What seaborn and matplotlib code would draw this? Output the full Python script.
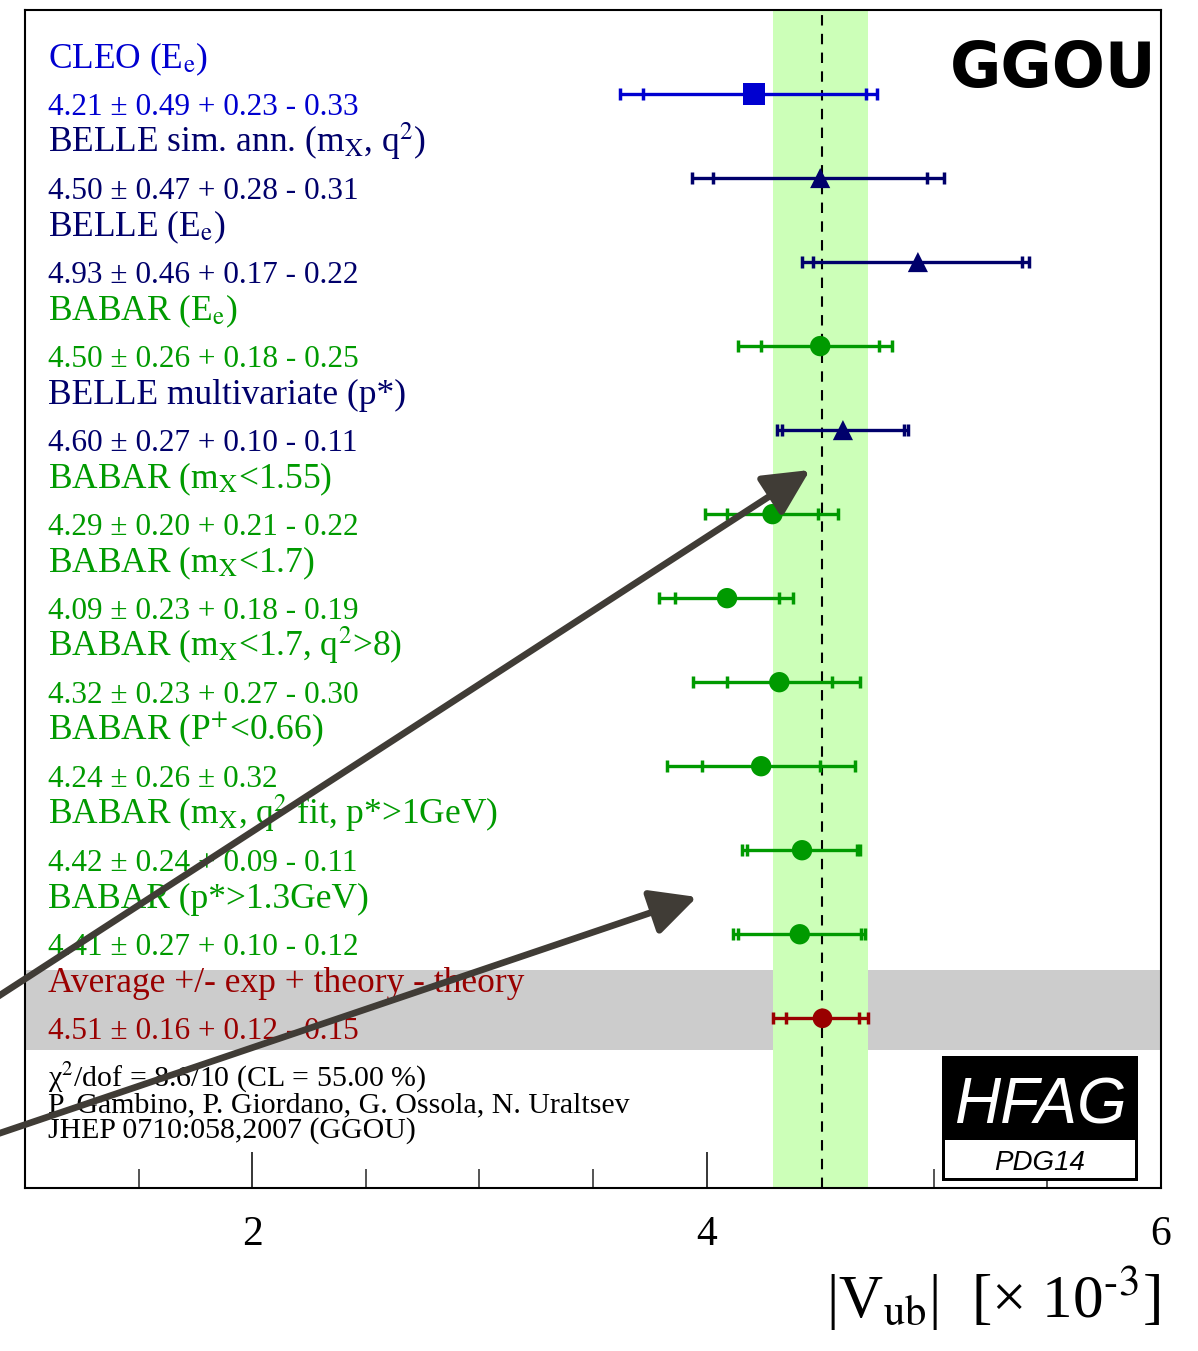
import numpy as np
import pandas as pd
import matplotlib
matplotlib.use("Agg")
import matplotlib.pyplot as plt
from matplotlib.patches import Rectangle
import seaborn as sns

# ---------------- data ----------------
names = [
    "CLEO (E$_{\\rm e}$)",
    "BELLE sim. ann. (m$_{\\rm X}$, q$^{2}$)",
    "BELLE (E$_{\\rm e}$)",
    "BABAR (E$_{\\rm e}$)",
    "BELLE multivariate (p*)",
    "BABAR (m$_{\\rm X}$<1.55)",
    "BABAR (m$_{\\rm X}$<1.7)",
    "BABAR (m$_{\\rm X}$<1.7, q$^{2}$>8)",
    "BABAR (P$^{+}$<0.66)",
    "BABAR (m$_{\\rm X}$, q$^{2}$ fit, p*>1GeV)",
    "BABAR (p*>1.3GeV)",
    "Average +/- exp + theory - theory",
]
groups = ["CLEO", "BELLE", "BELLE", "BABAR", "BELLE", "BABAR",
          "BABAR", "BABAR", "BABAR", "BABAR", "BABAR", "Average"]
values = [4.21, 4.50, 4.93, 4.50, 4.60, 4.29, 4.09, 4.32, 4.24, 4.42, 4.41, 4.51]
exp_err = [0.49, 0.47, 0.46, 0.26, 0.27, 0.20, 0.23, 0.23, 0.26, 0.24, 0.27, 0.16]
th_up = [0.23, 0.28, 0.17, 0.18, 0.10, 0.21, 0.18, 0.27, 0.32, 0.09, 0.10, 0.12]
th_dn = [0.33, 0.31, 0.22, 0.25, 0.11, 0.22, 0.19, 0.30, 0.32, 0.11, 0.12, 0.15]

chi2_text = "χ$^{2}$/dof = 8.6/10 (CL = 55.00 %)"
ref_lines = ["P. Gambino, P. Giordano, G. Ossola, N. Uraltsev",
             "JHEP 0710:058,2007 (GGOU)"]
xticks = [2, 4, 6]

colors = {"CLEO": "#0000d0", "BELLE": "#00006b", "BABAR": "#009a00", "Average": "#990000"}
markers = {"CLEO": "s", "BELLE": "^", "BABAR": "o", "Average": "o"}
msizes = {"CLEO": 250, "BELLE": 210, "BABAR": 215, "Average": 200}

# ---------------- figure ----------------
sns.set_theme(style="white")
plt.rcParams["font.family"] = ["Liberation Serif", "DejaVu Serif"]
plt.rcParams["mathtext.fontset"] = "stix"

W, H = 1198, 1351
fig = plt.figure(figsize=(W / 100, H / 100), dpi=100)
ax = fig.add_axes([25 / W, 1 - 1188 / H, (1161 - 25) / W, (1188 - 10) / H])
ax.set_xlim(1, 6)
ax.set_ylim(13.02, -1.0)

n = len(values)
rows = np.arange(n)
vals = np.array(values)
e = np.array(exp_err)
tot_up = np.sqrt(e ** 2 + np.array(th_up) ** 2)
tot_dn = np.sqrt(e ** 2 + np.array(th_dn) ** 2)

avg = values[-1]
band_lo = avg - tot_dn[-1]
band_hi = avg + tot_up[-1]

# grey band for the average row
ax.axhspan(n - 1 - 0.57, n - 1 + 0.38, color="#cccccc", zorder=0, lw=0)
# green average band
ax.axvspan(band_lo, band_hi, color="#ccffb8", zorder=1, lw=0)
ax.axvline(avg, color="black", lw=1.5, dashes=(5, 4), zorder=2)

# error bars
for i in range(n):
    c = colors[groups[i]]
    lo, hi = vals[i] - tot_dn[i], vals[i] + tot_up[i]
    ax.plot([lo, hi], [i, i], color=c, lw=2.4, zorder=3, solid_capstyle="butt")
    ax.plot([lo, hi, vals[i] - e[i], vals[i] + e[i]], [i] * 4, ls="none",
            marker="|", ms=9, mew=2.5, color=c, zorder=3)

df = pd.DataFrame({"val": vals, "row": rows, "group": groups})
sns.scatterplot(data=df, x="val", y="row", hue="group", style="group", size="group",
                palette=colors, markers=markers, sizes=msizes, edgecolor="none",
                legend=False, ax=ax, zorder=5)
ax.set_xlabel("")
ax.set_ylabel("")

# labels
tx = 1 + 23 / 227
for i in range(n):
    c = colors[groups[i]]
    ax.text(tx, i - 0.31, names[i], color=c, fontsize=25.5, va="baseline", ha="left", zorder=4)
    if abs(th_up[i] - th_dn[i]) < 1e-9:
        s = f"{values[i]:.2f} ± {exp_err[i]:.2f} ± {th_up[i]:.2f}"
    else:
        s = f"{values[i]:.2f} ± {exp_err[i]:.2f} + {th_up[i]:.2f} - {th_dn[i]:.2f}"
    ax.text(tx, i + 0.25, s, color=c, fontsize=22.5, va="baseline", ha="left", zorder=4)

# footer text
ax.text(tx, 11.71, chi2_text, fontsize=21.5, color="black", va="center", ha="left", zorder=4)
ax.text(tx, 12.04, ref_lines[0], fontsize=21.5, color="black", va="center", ha="left", zorder=4)
ax.text(tx, 12.34, ref_lines[1], fontsize=21.5, color="black", va="center", ha="left", zorder=4)

# GGOU label
ax.text(5.98, -0.29, "GGOU", fontsize=45, fontweight="bold", family="DejaVu Sans",
        ha="right", va="center", color="black", zorder=6)

# HFAG logo
ax.add_patch(Rectangle((5.035, 11.45), 0.864, 1.49, facecolor="black", edgecolor="none", zorder=6))
ax.add_patch(Rectangle((5.048, 12.45), 0.837, 0.45, facecolor="white", edgecolor="none", zorder=7))
ax.text(5.467, 12.05, "HFAG", fontsize=46, style="italic", family="Liberation Sans",
        color="white", ha="center", va="center", zorder=8)
ax.text(5.467, 12.72, "PDG14", fontsize=20, style="italic", family="Liberation Sans",
        color="black", ha="center", va="center", zorder=8)

# axes styling
for sp in ax.spines.values():
    sp.set_color("black")
    sp.set_linewidth(1.5)
    sp.set_zorder(9)
ax.set_yticks([])
ax.set_xticks(xticks)
ax.set_xticklabels([str(t) for t in xticks], fontsize=30)
ax.set_xticks(np.arange(1.5, 6.0, 0.5), minor=True)
ax.tick_params(axis="x", which="major", direction="in", length=26, width=1.1, pad=20,
               colors="black", bottom=True, top=False, zorder=9)
ax.tick_params(axis="x", which="minor", direction="in", length=14, width=1.1,
               bottom=True, top=False)
ax.grid(False)
for t in ax.xaxis.get_major_ticks() + ax.xaxis.get_minor_ticks():
    t.tick1line.set_zorder(10)

# x label
fig.text(1160 / W, 33 / H, "|V$_{\\rm ub}$|  [× 10$^{\\text{-3}}$]", fontsize=44,
         ha="right", va="baseline", color="black")

# arrows
arrow_col = "#403c36"
for (x0, y0), (x1, y1) in [((-100, 1060), (810, 470)), ((-100, 1167), (697, 897))]:
    ax.annotate("", xy=(x1, H - y1), xycoords="figure pixels",
                xytext=(x0, H - y0), textcoords="figure pixels",
                arrowprops=dict(arrowstyle="-|>,head_length=1.0,head_width=0.5",
                                color=arrow_col, lw=4.8, mutation_scale=28,
                                shrinkA=0, shrinkB=0),
                annotation_clip=False, zorder=20)

fig.savefig("out.png", dpi=100)
